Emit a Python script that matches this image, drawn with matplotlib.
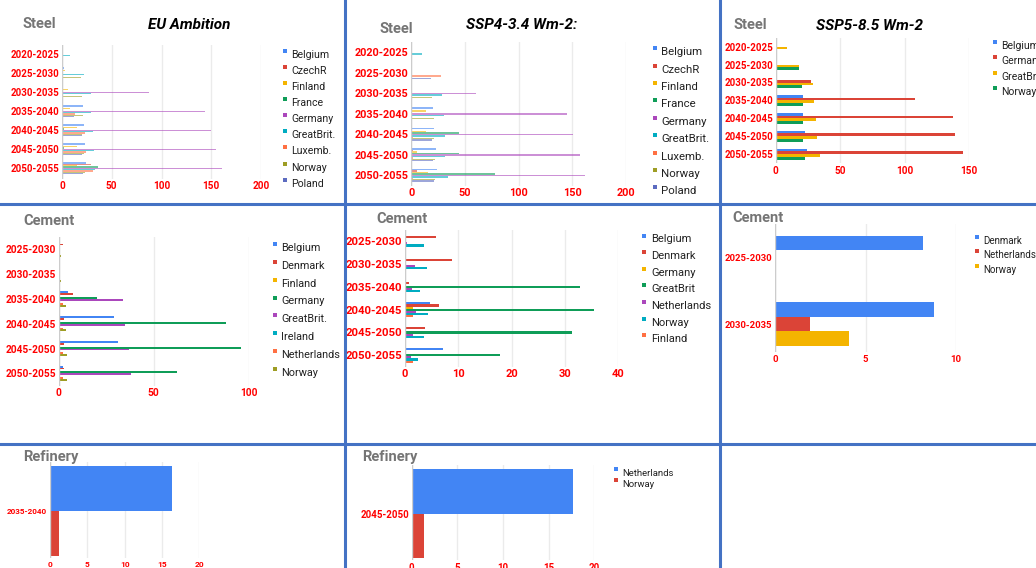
import numpy as np
import matplotlib
matplotlib.use('Agg')
import matplotlib.pyplot as plt
from matplotlib.patches import Rectangle
from matplotlib.lines import Line2D

plt.rcParams['font.family'] = ['Roboto', 'DejaVu Sans']

# ---- data ----
steel_periods = ['2020-2025', '2025-2030', '2030-2035', '2035-2040',
                 '2040-2045', '2045-2050', '2050-2055']
cement_periods = ['2025-2030', '2030-2035', '2035-2040',
                  '2040-2045', '2045-2050', '2050-2055']

eu_steel_names = ['Belgium', 'CzechR', 'Finland', 'France', 'Germany',
                  'GreatBrit.', 'Luxemb.', 'Norway', 'Poland']
eu_steel = [
    [0, 2, 0, 21, 22, 23, 24],
    [0, 0, 0, 0, 0, 0, 29],
    [0, 3, 6, 8, 15, 15, 15],
    [0, 0, 0, 0, 2, 2, 36],
    [0, 0, 87, 144, 150, 155, 161],
    [8, 22, 29, 29, 31, 32, 33],
    [0, 0, 0, 13, 23, 24, 31],
    [0, 19, 20, 21, 20, 22, 23],
    [0, 0, 0, 12, 20, 20, 21],
]

ssp4_steel_names = eu_steel_names
ssp4_steel = [
    [0, 0, 0, 20, 21, 23, 24],
    [0, 0, 0, 0, 0, 2, 5],
    [0, 0, 0, 14, 14, 5, 16],
    [0, 0, 0, 0, 44, 44, 78],
    [0, 0, 60, 145, 151, 157, 162],
    [10, 0, 29, 30, 31, 31, 34],
    [0, 28, 0, 0, 2, 2, 2],
    [0, 0, 19, 21, 21, 22, 22],
    [0, 18, 0, 0, 19, 20, 21],
]

ssp5_steel_names = ['Belgium', 'Germany', 'GreatBrit.', 'Norway']
ssp5_steel = [
    [0, 0, 0, 21, 21, 23, 24],
    [0, 0, 27, 108, 137, 139, 145],
    [8.5, 18, 29, 30, 31, 32, 34],
    [0, 18, 20, 21, 21, 21, 23],
]

eu_cement_names = ['Belgium', 'Denmark', 'Finland', 'Germany',
                   'GreatBrit.', 'Ireland', 'Netherlands', 'Norway']
eu_cement = [
    [0, 0, 5, 29, 31, 2],
    [2.5, 0, 7.5, 3, 3, 3],
    [0, 0, 0, 0, 0, 0],
    [0, 0, 20, 88, 96, 62],
    [0, 0, 34, 35, 37, 38],
    [0, 0, 0, 0, 0, 0],
    [0.5, 0.5, 2, 2, 2, 2],
    [1, 1, 4, 4, 4.5, 4.5],
]

ssp4_cement_names = ['Belgium', 'Denmark', 'Germany', 'GreatBrit',
                     'Netherlands', 'Norway', 'Finland']
ssp4_cement = [
    [0, 0, 0, 4.6, 0, 7.2],
    [5.8, 8.8, 0.7, 6.3, 3.7, 0],
    [0, 0, 0, 1.5, 0, 0],
    [0, 0, 32.9, 35.5, 31.3, 17.8],
    [0.3, 1.8, 1.4, 2, 1.5, 1.1],
    [3.6, 4.1, 2.8, 4.4, 3.5, 2.4],
    [0, 0, 0, 1.5, 0, 1.5],
]

ssp5_cement_periods = ['2025-2030', '2030-2035']
ssp5_cement_names = ['Denmark', 'Netherlands', 'Norway']
ssp5_cement = [
    [8.2, 8.8],
    [0, 1.9],
    [0, 4.1],
]

refinery_names = ['Netherlands', 'Norway']
eu_refinery_periods = ['2035-2040']
eu_refinery = [[16.4], [1.25]]
ssp4_refinery_periods = ['2045-2050']
ssp4_refinery = [[17.7], [1.3]]

palette = ['#4285F4', '#DB4437', '#F4B400', '#0F9D58', '#AB47BC',
           '#00ACC1', '#FF7043', '#9E9D24', '#5C6BC0']

# ---- figure, laid out in pixels ----
W, H = 1036, 568
fig = plt.figure(figsize=(W / 100, H / 100), dpi=100)


def hbar_panel(vals, cats, left, right, top, bottom, first_y, step,
               xmax, xticks, frac, cat_size=7, tick_size=7, alpha=1.0):
    ax = fig.add_axes([left / W, 1 - bottom / H, (right - left) / W,
                       (bottom - top) / H])
    n = len(cats)
    k = len(vals)
    y = np.arange(n)
    h = frac / k
    for j, row in enumerate(vals):
        ax.barh(y - frac / 2 + (j + 0.5) * h, row, height=h,
                color=palette[j], linewidth=0, alpha=alpha, zorder=3)
    last_y = first_y + (n - 1) * step
    ax.set_ylim((n - 1) + (bottom - last_y) / step, -(first_y - top) / step)
    ax.set_xlim(0, xmax)
    ax.set_xticks(xticks)
    ax.set_yticks(y)
    ax.set_yticklabels(cats)
    ax.tick_params(length=0, pad=2)
    for lab in ax.get_yticklabels():
        lab.set(color='#FF0000', fontweight='bold', fontsize=cat_size)
    for lab in ax.get_xticklabels():
        lab.set(color='#FF0000', fontweight='bold', fontsize=tick_size)
    for s in ax.spines.values():
        s.set_visible(False)
    ax.grid(axis='x', color='#ebebeb', linewidth=1, zorder=0)
    ax.axvline(0, color='#cccccc', linewidth=1, zorder=4)
    return ax


def legend(names, mx, tx, y0, step, size):
    for i, name in enumerate(names):
        y = y0 + i * step
        fig.add_artist(Rectangle(((mx - 2) / W, 1 - (y - 1.5) / H), 4 / W, 4 / H,
                                 color=palette[i], transform=fig.transFigure,
                                 linewidth=0))
        fig.text(tx / W, 1 - (y + 3.5) / H, name, fontsize=size,
                 color='#222222', va='baseline')


def section(x, y, text):
    fig.text(x / W, 1 - y / H, text, fontsize=10.5, fontweight='bold',
             color='#757575', va='baseline')


def scenario(x, y, text):
    fig.text(x / W, 1 - y / H, text, fontsize=11, fontweight='bold',
             style='italic', color='black', ha='center', va='baseline')


# Steel row
hbar_panel(eu_steel, steel_periods, 62, 261, 45, 178.5, 54.3, 19,
           200, [0, 50, 100, 150, 200], 0.63, cat_size=7, tick_size=7.2,
           alpha=0.6)
section(22.7, 28.3, 'Steel')
scenario(189, 29.3, 'EU Ambition')
legend(eu_steel_names, 285, 291, 54.3, 16.1, 7.6)

hbar_panel(ssp4_steel, steel_periods, 411.3, 626, 42, 185.6, 52.3, 20.5,
           200, [0, 50, 100, 150, 200], 0.65, cat_size=7.8, tick_size=7.8,
           alpha=0.6)
section(380, 32.7, 'Steel')
scenario(522, 29.3, 'SSP4-3.4 Wm-2:')
legend(ssp4_steel_names, 655, 661, 51.7, 17.4, 8.2)

hbar_panel(ssp5_steel, steel_periods, 775.7, 969.3, 37.7, 163, 46.7, 17.9,
           150, [0, 50, 100, 150], 0.61, cat_size=7, tick_size=7.2)
section(734, 29, 'Steel')
scenario(869, 30, 'SSP5-8.5 Wm-2')
legend(ssp5_steel_names, 995, 1001, 45.7, 15.3, 7.5)

# Cement row
hbar_panel(eu_cement, cement_periods, 58.7, 248.7, 236.9, 385.7, 249.3, 24.8,
           100, [0, 50, 100], 0.62, cat_size=7.3, tick_size=7.3)
section(23, 225, 'Cement')
legend(eu_cement_names, 275, 281, 247.3, 17.9, 7.8)

hbar_panel(ssp4_cement, cement_periods, 405, 618.3, 230, 366.7, 241.3, 22.8,
           40, [0, 10, 20, 30, 40], 0.64, cat_size=8.2, tick_size=8)
section(376.7, 223.3, 'Cement')
legend(ssp4_cement_names, 644, 651, 239, 16.6, 8)

hbar_panel(ssp5_cement, ssp5_cement_periods, 775.3, 956, 224, 352, 257.3, 66.7,
           10, [0, 5, 10], 0.645, cat_size=6.8, tick_size=6.8)
section(732.3, 221.7, 'Cement')
legend(ssp5_cement_names, 977.3, 983.3, 240.7, 14.2, 7)

# Refinery row
hbar_panel(eu_refinery, eu_refinery_periods, 50, 199.3, 462, 558, 511, 98,
           20, [0, 5, 10, 15, 20], 0.918, cat_size=5.9, tick_size=6)
section(23.3, 460.7, 'Refinery')

hbar_panel(ssp4_refinery, ssp4_refinery_periods, 411.7, 594.3, 465, 560, 513.7, 97,
           20, [0, 5, 10, 15, 20], 0.92, cat_size=7, tick_size=7)
section(362.3, 460.7, 'Refinery')
legend(refinery_names, 616, 622.3, 472.3, 11.4, 6.8)

# panel dividers
for x in (344.5, 719.5):
    fig.add_artist(Line2D([x / W, x / W], [0, 1], color='#4472C4',
                          linewidth=2.2, transform=fig.transFigure))
for y in (204, 444):
    fig.add_artist(Line2D([0, 1], [1 - y / H, 1 - y / H], color='#4472C4',
                          linewidth=2.2, transform=fig.transFigure))

fig.savefig('out.png', dpi=100)
